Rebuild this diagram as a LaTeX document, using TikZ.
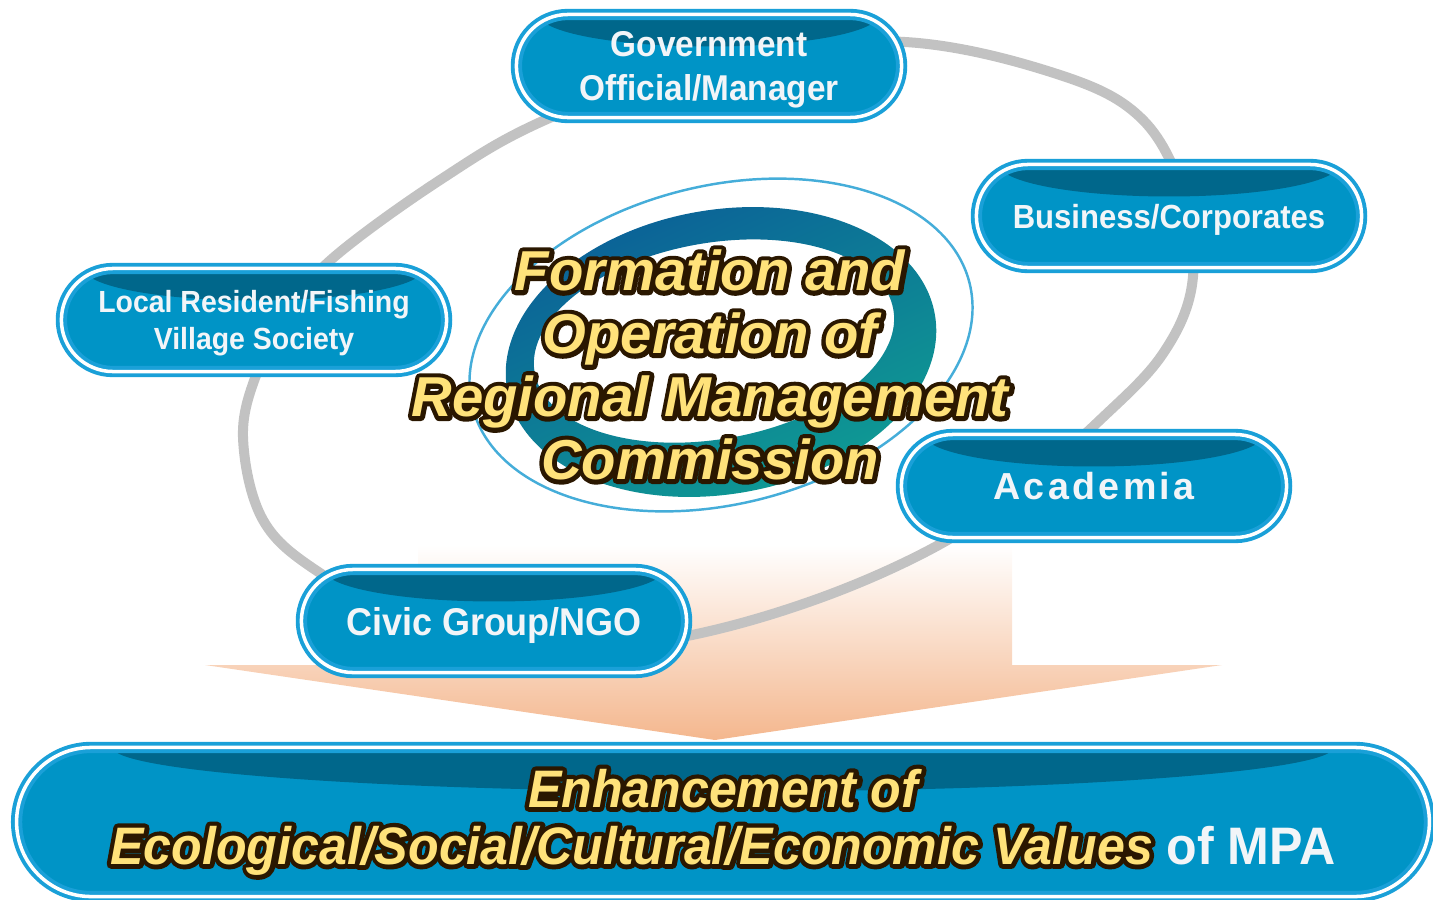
\documentclass[tikz,border=0pt]{standalone}
\usepackage{fontspec}
\setmainfont{Liberation Sans}
\newfontfamily\labelfont[FakeStretch=0.93]{Liberation Sans}
\newfontfamily\narrowfont[FakeStretch=0.95]{Liberation Sans}
\newfontfamily\spacedfont[LetterSpace=9]{Liberation Sans}
\usetikzlibrary{shapes.misc}
\definecolor{BoxBlue}{HTML}{0094C6}
\definecolor{BandBlue}{HTML}{00678B}
\definecolor{RimBlue}{HTML}{1AA0D8}
\definecolor{LabelWhite}{HTML}{F2F5F8}
\definecolor{RingGray}{HTML}{C2C2C2}
\definecolor{ThinBlue}{HTML}{45ADD9}
\definecolor{RingBlue}{HTML}{0B5E98}
\definecolor{RingTeal}{HTML}{0F9E93}
\definecolor{GoldText}{HTML}{FFE27A}
\definecolor{GlowBrown}{HTML}{2A1700}
\definecolor{ArrowPeach}{HTML}{F4B78E}
% yellow text with a dark stroked outline behind it
\newcommand{\halo}[1]{\leavevmode\rlap{\color{GlowBrown}%
    \special{pdf:literal direct 0.165 0.09 0 RG 1 Tr 2.6 w 1 j}#1%
    \special{pdf:literal direct 0 Tr}}%
  {\color{GoldText}#1}}
\tikzset{
  stake/.style={rounded rectangle, draw=RimBlue, double=white,
                double distance=1pt, line width=1.1pt, fill=BoxBlue,
                minimum width=3.85cm, minimum height=1.03cm, inner sep=0pt,
                align=center, text=LabelWhite, text depth=0pt,
                font=\labelfont\bfseries\fontsize{9.5}{12}\selectfont,
                path picture={\fill[BandBlue] (path picture bounding box.north)
                  ellipse [x radius=1.7cm, y radius=0.32cm];}},
  goal/.style={stake, minimum width=14.12cm, minimum height=1.49cm,
               text depth=3pt,
               font=\narrowfont\bfseries\fontsize{15}{16.2}\selectfont,
               path picture={\fill[BandBlue] (path picture bounding box.north)
                 ellipse [x radius=6.1cm, y radius=0.44cm];}},
  hub/.style={align=center, font=\bfseries\itshape\fontsize{16}{17.9}\selectfont},
  ringline/.style={draw=RingGray, line width=0.1cm},
}

\begin{document}
\begin{tikzpicture}[x=0.01cm, y=-0.01cm]
  \useasboundingbox (0,0) rectangle (1433,900);

  % broad arrow down to the goal
  \shade[top color=white, bottom color=ArrowPeach]
    (418,545) -- (1012,545) -- (1012,665) -- (1222,665) -- (715,740)
    -- (205,665) -- (418,665) -- cycle;

  % ring through the stakeholders
  \draw[ringline] plot[smooth cycle, tension=0.6] coordinates {
    (905,42) (1060,75) (1143,120) (1185,200) (1192,285) (1162,355)
    (1100,420) (1020,490) (935,547) (820,598) (692,635) (560,652)
    (420,625) (320,573) (263,520) (243,437) (258,370) (290,310)
    (333,258) (440,180) (545,120) (720,55)};

  % commission emblem
  \draw[ThinBlue, line width=0.7pt, rotate around={14:(721,345)}]
    (721,345) ellipse [x radius=2.56cm, y radius=1.59cm];
  \shade[even odd rule, top color=RingBlue, bottom color=RingTeal,
         shading angle=25, rotate around={10:(721,352)}]
    (721,352) ellipse [x radius=2.17cm, y radius=1.42cm]
    (716,340) ellipse [x radius=1.82cm, y radius=0.98cm];
  \node[hub] (hub) at (710,365)
    {\halo{Formation and}\\\halo{Operation of}\\\halo{Regional Management}\\\halo{Commission}};

  % stakeholders
  \node[stake, font=\labelfont\bfseries\fontsize{10.2}{12.6}\selectfont]
    (gov) at (709,66) {Government\\Official/Manager};
  \node[stake] (biz) at (1169,216) {Business/Corporates};
  \node[stake, font=\labelfont\bfseries\fontsize{8.7}{10.6}\selectfont]
    (local) at (254,320) {Local Resident/Fishing\\Village Society};
  \node[stake, font=\spacedfont\bfseries\fontsize{10.7}{13}\selectfont]
    (acad) at (1094,486) {Academia};
  \node[stake, font=\labelfont\bfseries\fontsize{11}{13}\selectfont]
    (civic) at (494,621) {Civic Group/NGO};

  % outcome
  \node[goal] (goal) at (723,822)
    {\itshape\halo{Enhancement of}\\\itshape\halo{Ecological/Social/Cultural/Economic Values} \upshape of MPA};
\end{tikzpicture}
\end{document}
